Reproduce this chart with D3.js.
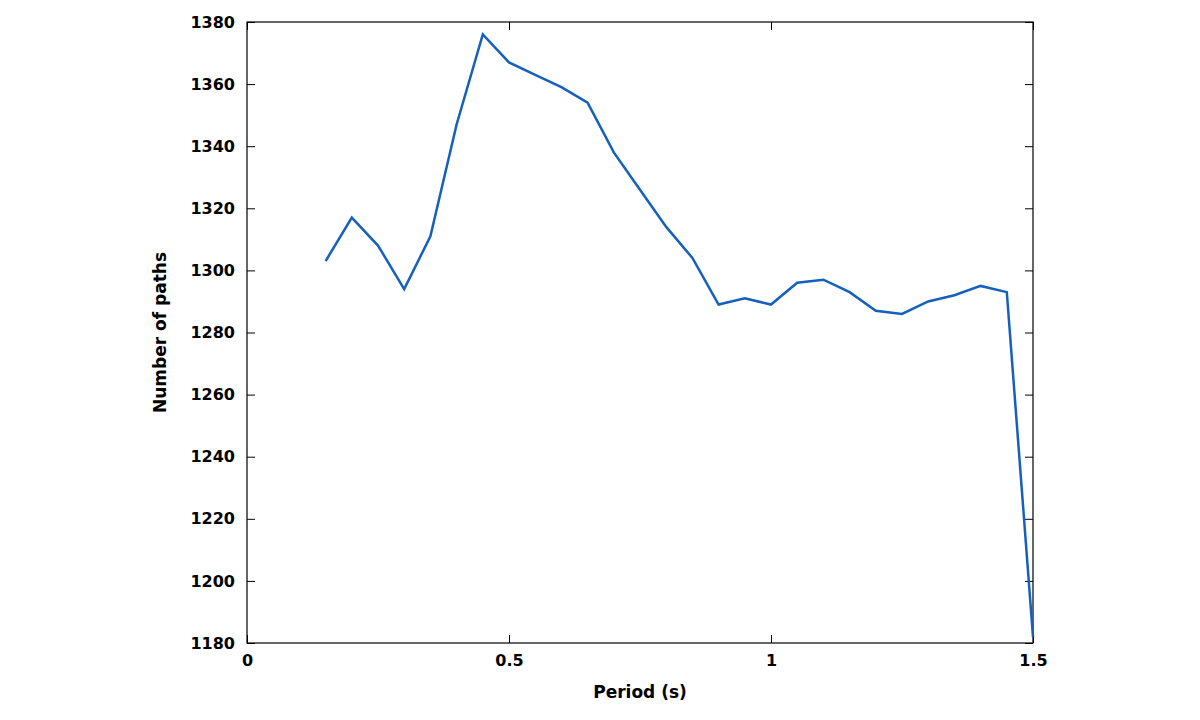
<!DOCTYPE html>
<html><head><meta charset="utf-8">
<script src="https://cdn.jsdelivr.net/npm/d3@7"></script>
<style>body{margin:0;background:#fff}text{font-family:"DejaVu Sans";font-weight:bold}</style>
</head><body><svg id="c" width="1200" height="720"></svg>
<script>
const periods=[0.15,0.2,0.25,0.3,0.35,0.4,0.45,0.5,0.55,0.6,0.65,0.7,0.75,0.8,0.85,0.9,0.95,1.0,1.05,1.1,1.15,1.2,1.25,1.3,1.35,1.4,1.45,1.5];
const paths=[1303,1317,1308,1294,1311,1347,1376,1367,1363,1359,1354,1338,1326,1314,1304,1289,1291,1289,1296,1297,1293,1287,1286,1290,1292,1295,1293,1182];
const xTicks=[0,0.5,1,1.5];
const yTicks=[1180,1200,1220,1240,1260,1280,1300,1320,1340,1360,1380];
const svg=d3.select("#c");
const L=247,R=1033,T=22,B=643;
const x=d3.scaleLinear().domain([0,1.5]).range([L,R]);
const y=d3.scaleLinear().domain([1180,1380]).range([B,T]);
svg.append("rect").attr("x",L).attr("y",T).attr("width",R-L).attr("height",B-T).attr("fill","none").attr("stroke","#000").attr("stroke-width",1.2);
const fmt=d=>String(d);
const ax=(g,a)=>{g.call(a);g.select(".domain").remove();g.selectAll("text").attr("font-size",16).attr("fill","#000");g.selectAll("line").attr("stroke","#000");};
svg.append("g").attr("transform",`translate(0,${B})`).call(g=>ax(g,d3.axisBottom(x).tickValues(xTicks).tickFormat(fmt).tickSizeInner(-8).tickSizeOuter(0).tickPadding(12)));
svg.append("g").attr("transform",`translate(0,${T})`).call(g=>{ax(g,d3.axisTop(x).tickValues(xTicks).tickSizeInner(-8).tickSizeOuter(0));g.selectAll("text").remove();});
svg.append("g").attr("transform",`translate(${L},0)`).call(g=>ax(g,d3.axisLeft(y).tickValues(yTicks).tickFormat(fmt).tickSizeInner(-8).tickSizeOuter(0).tickPadding(12)));
svg.append("g").attr("transform",`translate(${R},0)`).call(g=>{ax(g,d3.axisRight(y).tickValues(yTicks).tickSizeInner(-8).tickSizeOuter(0));g.selectAll("text").remove();});
svg.append("path").datum(periods.map((p,i)=>[p,paths[i]])).attr("fill","none").attr("stroke","#1560bd").attr("stroke-width",2.5)
 .attr("d",d3.line().x(d=>x(d[0])).y(d=>y(d[1])));
svg.append("text").attr("x",(L+R)/2).attr("y",698).attr("text-anchor","middle").attr("font-size",17).text("Period (s)");
svg.append("text").attr("transform",`translate(166,${(T+B)/2}) rotate(-90)`).attr("text-anchor","middle").attr("font-size",17).text("Number of paths");
</script></body></html>
